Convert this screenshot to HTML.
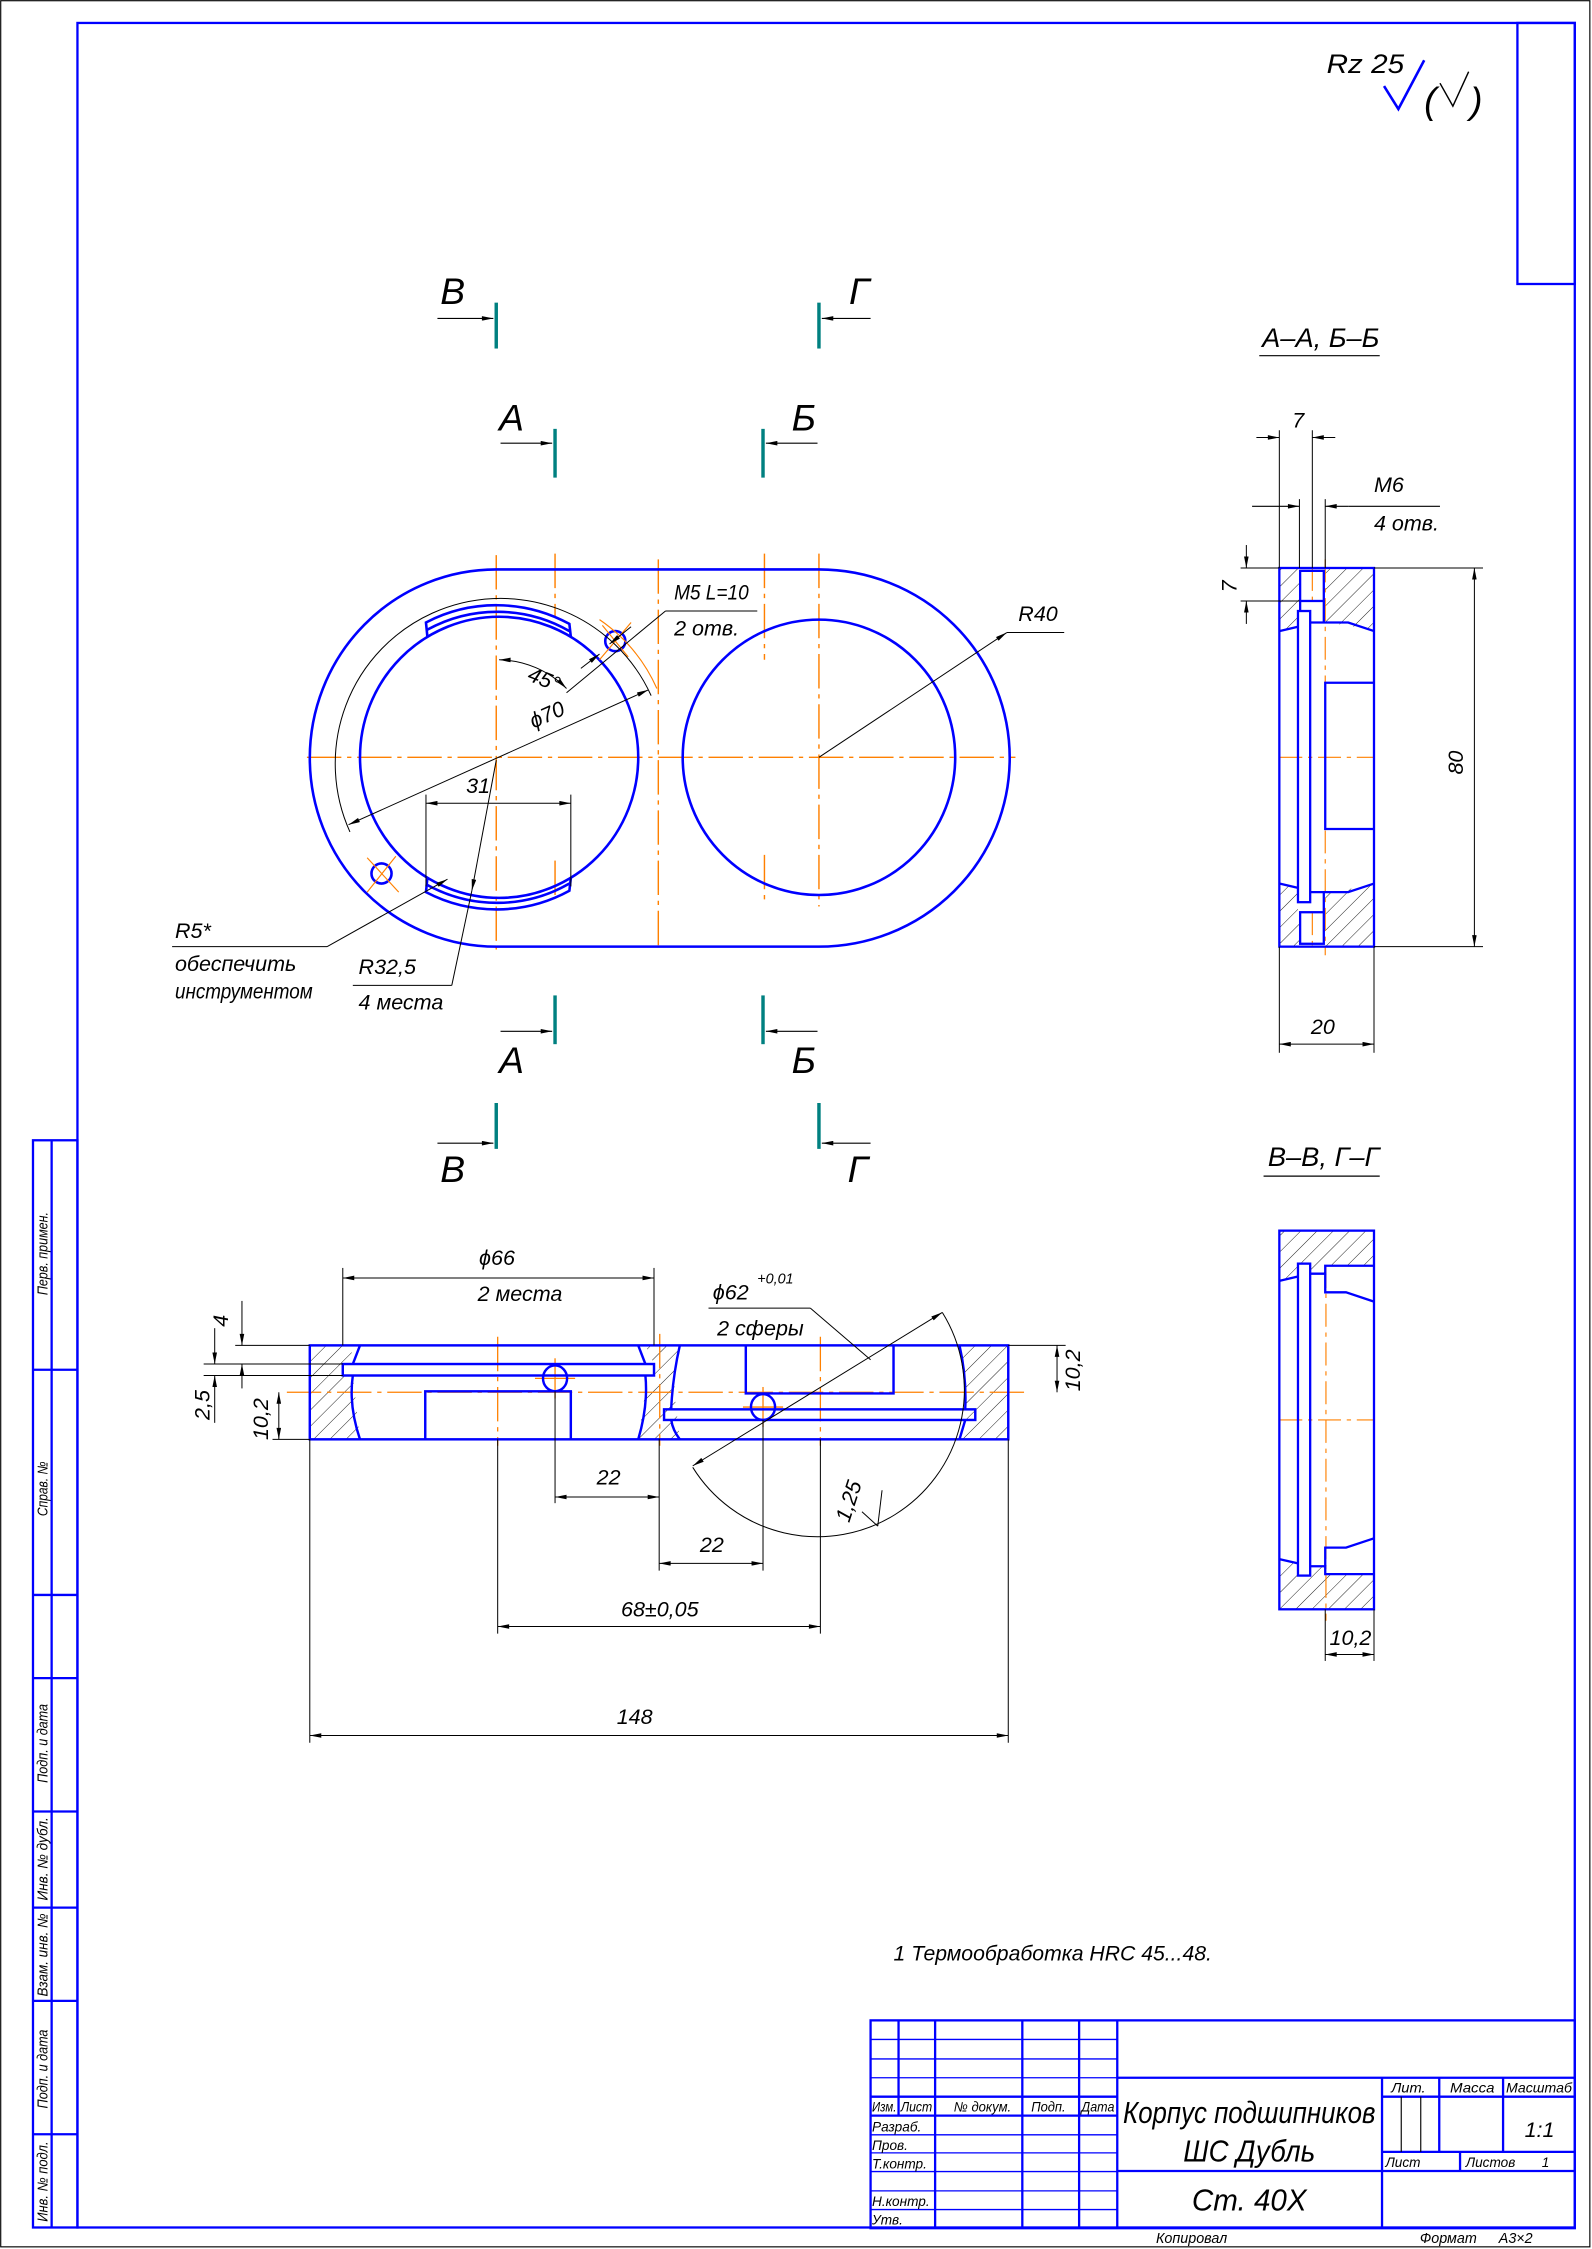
<!DOCTYPE html>
<html><head><meta charset="utf-8"><style>
html,body{margin:0;padding:0;background:#fff;}
svg{display:block;}
text{font-family:"Liberation Sans","DejaVu Sans",sans-serif;font-style:italic;fill:#000;}
</style></head><body>
<svg width="1592" height="2249" viewBox="0 0 1110 1568" preserveAspectRatio="none" xmlns="http://www.w3.org/2000/svg">
<defs>
<marker id="a" viewBox="0 0 10 4" refX="10" refY="2" markerWidth="9" markerHeight="3.2" markerUnits="userSpaceOnUse" orient="auto-start-reverse"><path d="M0,0 L10,2 L0,4z" fill="#000"/></marker>
<pattern id="h" patternUnits="userSpaceOnUse" width="8" height="8" patternTransform="rotate(45)"><line x1="0" y1="0" x2="0" y2="8" stroke="#000" stroke-width="0.6"/></pattern>
</defs>
<rect x="0" y="0" width="1110" height="1568" fill="#fff"/>
<rect x="0.5" y="0.5" width="1108" height="1566" fill="none" stroke="#000" stroke-width="0.8"/>
<!-- frame -->
<g stroke="#0000ff" stroke-width="1.6" fill="none">
<rect x="54" y="16" width="1044" height="1537"/>
<rect x="1058" y="16" width="40" height="182"/>
<rect x="23" y="795" width="31" height="758"/>
<line x1="36" y1="795" x2="36" y2="1553"/>
<line x1="23" y1="955" x2="54" y2="955"/><line x1="23" y1="1112" x2="54" y2="1112"/>
<line x1="23" y1="1170" x2="54" y2="1170"/><line x1="23" y1="1263" x2="54" y2="1263"/>
<line x1="23" y1="1330" x2="54" y2="1330"/><line x1="23" y1="1395" x2="54" y2="1395"/>
<line x1="23" y1="1488" x2="54" y2="1488"/>
</g>
<g font-size="10">
<text transform="translate(33,903) rotate(-90)" textLength="58" lengthAdjust="spacingAndGlyphs">Перв. примен.</text>
<text transform="translate(33,1057) rotate(-90)" textLength="38" lengthAdjust="spacingAndGlyphs">Справ. №</text>
<text transform="translate(33,1243) rotate(-90)" textLength="55" lengthAdjust="spacingAndGlyphs">Подп. и дата</text>
<text transform="translate(33,1325) rotate(-90)" textLength="58" lengthAdjust="spacingAndGlyphs">Инв. № дубл.</text>
<text transform="translate(33,1392) rotate(-90)" textLength="58" lengthAdjust="spacingAndGlyphs">Взам. инв. №</text>
<text transform="translate(33,1470) rotate(-90)" textLength="55" lengthAdjust="spacingAndGlyphs">Подп. и дата</text>
<text transform="translate(33,1549) rotate(-90)" textLength="56" lengthAdjust="spacingAndGlyphs">Инв. № подл.</text>
</g>
<!-- roughness -->
<text x="925" y="51" font-size="19" textLength="54" lengthAdjust="spacingAndGlyphs">Rz 25</text>
<polyline points="965,60 975,76 993,42" fill="none" stroke="#0000ff" stroke-width="1.8"/>
<text x="993" y="79" font-size="26" font-style="normal">(</text>
<polyline points="1004,58 1013,74 1024,50" fill="none" stroke="#000" stroke-width="1"/>
<text x="1025" y="79" font-size="26" font-style="normal">)</text>

<!-- ============ MAIN VIEW ============ -->
<g stroke="#ff8000" stroke-width="1" fill="none" stroke-dasharray="24,4,3,4">
<line x1="214" y1="528" x2="708" y2="528"/>
<line x1="346" y1="387" x2="346" y2="662"/>
<line x1="459" y1="390" x2="459" y2="662"/>
<line x1="571" y1="386" x2="571" y2="632"/>
<line x1="387" y1="386" x2="387" y2="430"/><line x1="387" y1="600" x2="387" y2="628"/>
<line x1="533" y1="386" x2="533" y2="460"/><line x1="533" y1="596" x2="533" y2="628"/>
</g>
<g stroke="#0000ff" stroke-width="1.8" fill="none">
<path d="M346,397 H571 A133,131.5 0 0 1 571,660 H346 A130,131.5 0 0 1 346,397Z"/>
<ellipse cx="348" cy="528" rx="97" ry="98"/>
<ellipse cx="571" cy="528" rx="95" ry="96"/>
<path d="M298,444 L297,434 A106,106 0 0 1 397,435 L398,444"/>
<path d="M298,439 A101,101 0 0 1 397,440"/>
<path d="M298,612 L297,622 A106,106 0 0 0 397,621 L398,612"/>
<path d="M298,617 A101,101 0 0 0 397,616"/>
<circle cx="429" cy="447" r="7"/>
<circle cx="266" cy="609" r="7"/>
</g>
<g stroke="#ff8000" stroke-width="0.8">
<line x1="418" y1="460" x2="440" y2="434"/><line x1="420" y1="436" x2="438" y2="458"/>
<line x1="256" y1="598" x2="278" y2="622"/><line x1="256" y1="622" x2="276" y2="597"/>
<path d="M418,432 A115,115 0 0 1 458,480" fill="none"/>
</g>
<g stroke="#000" stroke-width="0.7" fill="none">
<path d="M244,580 A115,115 0 1 1 454,485"/>
<line x1="243" y1="575" x2="452" y2="481" marker-start="url(#a)" marker-end="url(#a)"/>
<path d="M348,460 A68,68 0 0 1 395,480" marker-start="url(#a)" marker-end="url(#a)"/>
<line x1="395" y1="483" x2="464" y2="426"/><line x1="464" y1="426" x2="528" y2="426"/>
<line x1="440" y1="437" x2="425" y2="449" marker-end="url(#a)"/>
<line x1="405" y1="466" x2="418" y2="456" marker-end="url(#a)"/>
<line x1="571" y1="528" x2="702" y2="441" marker-end="url(#a)"/><line x1="702" y1="441" x2="742" y2="441"/>
<line x1="297" y1="554" x2="297" y2="618"/><line x1="398" y1="554" x2="398" y2="618"/>
<line x1="297" y1="560" x2="398" y2="560" marker-start="url(#a)" marker-end="url(#a)"/>
<line x1="346" y1="530" x2="329" y2="621" marker-end="url(#a)"/><line x1="329" y1="621" x2="315" y2="687"/><line x1="315" y1="687" x2="246" y2="687"/>
<line x1="228" y1="660" x2="312" y2="613" marker-end="url(#a)"/><line x1="228" y1="660" x2="120" y2="660"/>
</g>
<g font-size="15">
<text x="470" y="418" textLength="52" lengthAdjust="spacingAndGlyphs">M5 L=10</text>
<text x="470" y="443">2 отв.</text>
<text x="710" y="433">R40</text>
<text x="325" y="553">31</text>
<text transform="translate(367,474) rotate(22)">45°</text>
<text transform="translate(372,508) rotate(-24)">ϕ70</text>
<text x="250" y="679">R32,5</text>
<text x="250" y="704">4 места</text>
<text x="122" y="654">R5*</text>
<text x="122" y="677">обеспечить</text>
<text x="122" y="696" textLength="96" lengthAdjust="spacingAndGlyphs">инструментом</text>
</g>
<!-- section marks -->
<g stroke="#008080" stroke-width="2.4">
<line x1="346" y1="211" x2="346" y2="243"/><line x1="571" y1="211" x2="571" y2="243"/>
<line x1="387" y1="299" x2="387" y2="333"/><line x1="532" y1="299" x2="532" y2="333"/>
<line x1="387" y1="694" x2="387" y2="728"/><line x1="532" y1="694" x2="532" y2="728"/>
<line x1="346" y1="769" x2="346" y2="801"/><line x1="571" y1="769" x2="571" y2="801"/>
</g>
<g stroke="#000" stroke-width="0.8">
<line x1="305" y1="222" x2="344" y2="222" marker-end="url(#a)"/>
<line x1="607" y1="222" x2="573" y2="222" marker-end="url(#a)"/>
<line x1="349" y1="309" x2="385" y2="309" marker-end="url(#a)"/>
<line x1="570" y1="309" x2="534" y2="309" marker-end="url(#a)"/>
<line x1="349" y1="719" x2="385" y2="719" marker-end="url(#a)"/>
<line x1="570" y1="719" x2="534" y2="719" marker-end="url(#a)"/>
<line x1="305" y1="797" x2="344" y2="797" marker-end="url(#a)"/>
<line x1="607" y1="797" x2="573" y2="797" marker-end="url(#a)"/>
</g>
<g font-size="26" font-style="normal">
<text x="307" y="212">В</text><text x="592" y="212">Г</text>
<text x="348" y="300">А</text><text x="552" y="300">Б</text>
<text x="348" y="748">А</text><text x="552" y="748">Б</text>
<text x="307" y="824">В</text><text x="591" y="824">Г</text>
</g>

<!-- ============ SECTION A-A ============ -->
<text x="880" y="242" font-size="19">А–А, Б–Б</text>
<line x1="878" y1="248" x2="962" y2="248" stroke="#000" stroke-width="0.8"/>
<path d="M892,396 H906 V419 H905 V437 L892,440Z M923,396 H958 V440 L940,436 L924,434Z" fill="url(#h)"/>
<path d="M892,660 H906 V637 H905 V619 L892,616Z M923,660 H958 V616 L940,620 L924,622Z" fill="url(#h)"/>
<g stroke="#ff8000" stroke-width="0.8" stroke-dasharray="16,4,3,4">
<line x1="892" y1="528" x2="958" y2="528"/>
<line x1="924" y1="390" x2="924" y2="666"/>
<line x1="915" y1="396" x2="915" y2="420"/><line x1="915" y1="636" x2="915" y2="660"/>
</g>
<g stroke="#0000ff" stroke-width="1.6" fill="none">
<rect x="892" y="396" width="66" height="264"/>
<rect x="906.5" y="398" width="16.5" height="21"/><line x1="906.5" y1="419" x2="906.5" y2="426"/>
<rect x="906.5" y="636" width="16.5" height="22"/>
<rect x="905" y="426" width="8.5" height="203"/>
<path d="M892,440 L905,437"/><path d="M913.5,434 H924 L940,434 L958,440"/>
<path d="M892,616 L905,619"/><path d="M913.5,622 H924 L940,622 L958,616"/>
<line x1="923" y1="419" x2="923" y2="434"/><line x1="923" y1="622" x2="923" y2="636"/>
<path d="M958,476 H924 V578 H958"/>
</g>
<g stroke="#000" stroke-width="0.7" fill="none">
<line x1="892" y1="300" x2="892" y2="396"/><line x1="915" y1="300" x2="915" y2="396"/>
<line x1="876" y1="305" x2="892" y2="305" marker-end="url(#a)"/><line x1="931" y1="305" x2="915" y2="305" marker-end="url(#a)"/>
<line x1="906" y1="348" x2="906" y2="396"/><line x1="924" y1="348" x2="924" y2="396"/>
<line x1="873" y1="353" x2="906" y2="353" marker-end="url(#a)"/><line x1="940" y1="353" x2="924" y2="353" marker-end="url(#a)"/><line x1="940" y1="353" x2="1004" y2="353"/>
<line x1="865" y1="396" x2="892" y2="396"/><line x1="865" y1="419" x2="906" y2="419"/>
<line x1="869" y1="380" x2="869" y2="396" marker-end="url(#a)"/><line x1="869" y1="435" x2="869" y2="419" marker-end="url(#a)"/>
<line x1="958" y1="396" x2="1034" y2="396"/><line x1="958" y1="660" x2="1034" y2="660"/>
<line x1="1028" y1="396" x2="1028" y2="660" marker-start="url(#a)" marker-end="url(#a)"/>
<line x1="892" y1="660" x2="892" y2="734"/><line x1="958" y1="660" x2="958" y2="734"/>
<line x1="892" y1="728" x2="958" y2="728" marker-start="url(#a)" marker-end="url(#a)"/>
</g>
<g font-size="15">
<text x="901" y="298">7</text>
<text x="958" y="343">M6</text>
<text x="958" y="370">4 отв.</text>
<text transform="translate(862,413) rotate(-90)">7</text>
<text transform="translate(1020,540) rotate(-90)">80</text>
<text x="914" y="721">20</text>
</g>

<!-- ============ SECTION B-B ============ -->
<text x="884" y="813" font-size="19">В–В, Г–Г</text>
<line x1="881" y1="820" x2="962" y2="820" stroke="#000" stroke-width="0.8"/>
<path d="M892,858 H958 V882.5 H924 V888 H913.5 V881 H905 V890 L892,893Z" fill="url(#h)"/>
<path d="M892,1122 H958 V1097.5 H924 V1092 H913.5 V1099 H905 V1090 L892,1087Z" fill="url(#h)"/>
<g stroke="#ff8000" stroke-width="0.8" stroke-dasharray="16,4,3,4">
<line x1="892" y1="990" x2="958" y2="990"/>
<line x1="924.5" y1="882" x2="924.5" y2="1130"/>
</g>
<g stroke="#0000ff" stroke-width="1.6" fill="none">
<rect x="892" y="858" width="66" height="264"/>
<rect x="905" y="881" width="8.5" height="217.5"/>
<path d="M892,893 L905,890"/><path d="M913.5,888 H924 V882.5 H958"/><path d="M924,888 V901 H938.5 L958,907.5"/>
<path d="M892,1087 L905,1090"/><path d="M913.5,1092 H924 V1097.5 H958"/><path d="M924,1092 V1079 H938.5 L958,1072.5"/>
</g>
<g stroke="#000" stroke-width="0.7">
<line x1="924" y1="1122" x2="924" y2="1158"/><line x1="958" y1="1122" x2="958" y2="1158"/>
<line x1="924" y1="1153.5" x2="958" y2="1153.5" marker-start="url(#a)" marker-end="url(#a)"/>
</g>
<text x="927" y="1147" font-size="15">10,2</text>

<!-- ============ FRONT SECTION ============ -->
<path d="M216,938 H246 L244,951 H239 V959 H246 L251,1003 H216Z" fill="url(#h)"/>
<path d="M450,938 H474 L472,951 L470,970 L474,1003 H445 L450,970 L456,959 V951Z" fill="url(#h)"/>
<path d="M669,938 H703 V1003 H669 L673,990 V982 L673,970Z" fill="url(#h)"/>
<g stroke="#ff8000" stroke-width="0.9" stroke-dasharray="24,4,3,4">
<line x1="200" y1="970.7" x2="716" y2="970.7"/>
<line x1="347" y1="932" x2="347" y2="1008"/>
<line x1="572" y1="932" x2="572" y2="1008"/>
<line x1="460" y1="930" x2="460" y2="1008"/>
</g>
<g stroke="#ff8000" stroke-width="0.9">
<line x1="373" y1="961" x2="401" y2="961"/><line x1="387" y1="947" x2="387" y2="975"/>
<line x1="518" y1="981" x2="546" y2="981"/><line x1="532" y1="967" x2="532" y2="995"/>
</g>
<g stroke="#0000ff" stroke-width="1.7" fill="none">
<rect x="216" y="938" width="487" height="65.5"/>
<rect x="239" y="951" width="217" height="8"/>
<rect x="463" y="982.6" width="217" height="7.4"/>
<path d="M296.5,1003.5 V970 H398 V1003.5"/>
<path d="M520,938 V971.5 H623 V938"/>
<path d="M251,938 L246,951"/><path d="M246,959 Q243,980 251,1003.5"/>
<path d="M445,938 L450,951"/><path d="M450,959 Q452,980 445,1003.5"/>
<path d="M474,938 Q469,960 468,982"/><path d="M468,990 Q469,997 474,1003.5"/>
<path d="M669,938 Q674,960 673,982"/><path d="M673,990 L669,1003.5"/>
<ellipse cx="387" cy="961" rx="8.4" ry="9"/>
<ellipse cx="532" cy="981" rx="8.4" ry="9"/>
</g>
<g stroke="#000" stroke-width="0.7" fill="none">
<line x1="239" y1="884" x2="239" y2="938"/><line x1="456" y1="884" x2="456" y2="938"/>
<line x1="239" y1="891" x2="456" y2="891" marker-start="url(#a)" marker-end="url(#a)"/>
<path d="M657,915 A101,101 0 1 1 483,1023"/>
<line x1="483" y1="1022" x2="657" y2="915" marker-start="url(#a)" marker-end="url(#a)"/>
<line x1="607" y1="948" x2="565" y2="912"/><line x1="565" y1="912" x2="494" y2="912"/>
<line x1="615" y1="1039" x2="612" y2="1064"/><line x1="612" y1="1064" x2="601" y2="1054"/>
<line x1="164" y1="938" x2="216" y2="938"/><line x1="142" y1="951" x2="239" y2="951"/><line x1="142" y1="959" x2="239" y2="959"/>
<line x1="168.7" y1="907" x2="168.7" y2="938" marker-end="url(#a)"/><line x1="168.7" y1="968" x2="168.7" y2="951" marker-end="url(#a)"/>
<line x1="149.7" y1="926" x2="149.7" y2="951" marker-end="url(#a)"/><line x1="149.7" y1="992" x2="149.7" y2="959" marker-end="url(#a)"/>
<line x1="190" y1="1003.5" x2="216" y2="1003.5"/>
<line x1="194.4" y1="970.7" x2="194.4" y2="1003.5" marker-start="url(#a)" marker-end="url(#a)"/>
<line x1="703" y1="938" x2="743" y2="938"/>
<line x1="737" y1="938" x2="737" y2="970.7" marker-start="url(#a)" marker-end="url(#a)"/>
<line x1="387" y1="970" x2="387" y2="1048"/><line x1="459.6" y1="1003" x2="459.6" y2="1095"/>
<line x1="387" y1="1043.7" x2="459.6" y2="1043.7" marker-start="url(#a)" marker-end="url(#a)"/>
<line x1="532" y1="990" x2="532" y2="1095"/>
<line x1="459.6" y1="1090" x2="532" y2="1090" marker-start="url(#a)" marker-end="url(#a)"/>
<line x1="347" y1="1003.5" x2="347" y2="1139"/><line x1="572" y1="1003.5" x2="572" y2="1139"/>
<line x1="347" y1="1134" x2="572" y2="1134" marker-start="url(#a)" marker-end="url(#a)"/>
<line x1="216" y1="1003.5" x2="216" y2="1215"/><line x1="703" y1="1003.5" x2="703" y2="1215"/>
<line x1="216" y1="1210" x2="703" y2="1210" marker-start="url(#a)" marker-end="url(#a)"/>
</g>
<g font-size="15">
<text x="334" y="882">ϕ66</text>
<text x="333" y="907">2 места</text>
<text x="497" y="906">ϕ62</text><text x="528" y="895" font-size="10">+0,01</text>
<text x="500" y="931">2 сферы</text>
<text transform="translate(592,1062) rotate(-72)">1,25</text>
<text transform="translate(159,925) rotate(-90)">4</text>
<text transform="translate(146,990) rotate(-90)">2,5</text>
<text transform="translate(187,1004) rotate(-90)">10,2</text>
<text transform="translate(753,970) rotate(-90)">10,2</text>
<text x="416" y="1035">22</text>
<text x="488" y="1082">22</text>
<text x="433" y="1127">68±0,05</text>
<text x="430" y="1202">148</text>
</g>
<text x="623" y="1367" font-size="15" textLength="222" lengthAdjust="spacingAndGlyphs">1 Термообработка HRC 45...48.</text>

<!-- ============ TITLE BLOCK ============ -->
<g stroke="#0000ff" fill="none">
<g stroke-width="1.6">
<rect x="607" y="1408.6" width="491" height="144.9"/>
<line x1="626.5" y1="1408.6" x2="626.5" y2="1475"/>
<line x1="652" y1="1408.6" x2="652" y2="1553.5"/>
<line x1="712.8" y1="1408.6" x2="712.8" y2="1553.5"/>
<line x1="752.4" y1="1408.6" x2="752.4" y2="1553.5"/>
<line x1="779" y1="1408.6" x2="779" y2="1553.5"/>
<line x1="607" y1="1461.8" x2="779" y2="1461.8"/>
<line x1="607" y1="1475" x2="779" y2="1475"/>
<line x1="779" y1="1448.6" x2="1098" y2="1448.6"/>
<line x1="779" y1="1513.6" x2="1098" y2="1513.6"/>
<line x1="963.6" y1="1448.6" x2="963.6" y2="1553.5"/>
<line x1="963.6" y1="1461.8" x2="1098" y2="1461.8"/>
<line x1="963.6" y1="1500.3" x2="1098" y2="1500.3"/>
<line x1="1003.5" y1="1448.6" x2="1003.5" y2="1500.3"/>
<line x1="1048" y1="1448.6" x2="1048" y2="1500.3"/>
<line x1="1018" y1="1500.3" x2="1018" y2="1513.6"/>
</g>
<g stroke-width="0.9">
<line x1="607" y1="1421.9" x2="779" y2="1421.9"/>
<line x1="607" y1="1435.5" x2="779" y2="1435.5"/>
<line x1="607" y1="1448.6" x2="779" y2="1448.6"/>
<line x1="607" y1="1488.4" x2="779" y2="1488.4"/>
<line x1="607" y1="1501" x2="779" y2="1501"/>
<line x1="607" y1="1514" x2="779" y2="1514"/>
<line x1="607" y1="1527.5" x2="779" y2="1527.5"/>
<line x1="607" y1="1540.5" x2="779" y2="1540.5"/>
</g>
</g>
<g stroke="#000" stroke-width="0.8">
<line x1="977" y1="1461.8" x2="977" y2="1500.3"/><line x1="990.6" y1="1461.8" x2="990.6" y2="1500.3"/>
</g>
<g font-size="9.5">
<text x="608" y="1472" textLength="17" lengthAdjust="spacingAndGlyphs">Изм.</text><text x="628" y="1472" textLength="22" lengthAdjust="spacingAndGlyphs">Лист</text><text x="665" y="1472" textLength="40" lengthAdjust="spacingAndGlyphs">№ докум.</text><text x="719" y="1472" textLength="24" lengthAdjust="spacingAndGlyphs">Подп.</text><text x="754" y="1472" textLength="23" lengthAdjust="spacingAndGlyphs">Дата</text>
<text x="608" y="1486">Разраб.</text>
<text x="608" y="1499">Пров.</text>
<text x="608" y="1512">Т.контр.</text>
<text x="608" y="1538">Н.контр.</text>
<text x="608" y="1551">Утв.</text>
<text x="970" y="1459" textLength="24" lengthAdjust="spacingAndGlyphs">Лит.</text><text x="1011" y="1459" textLength="31" lengthAdjust="spacingAndGlyphs">Масса</text><text x="1050" y="1459" textLength="46" lengthAdjust="spacingAndGlyphs">Масштаб</text>
<text x="966" y="1511">Лист</text><text x="1022" y="1511">Листов</text><text x="1075" y="1511">1</text>
</g>
<text x="1063" y="1490" font-size="15">1:1</text>
<text x="871" y="1480" font-size="21" text-anchor="middle" textLength="176" lengthAdjust="spacingAndGlyphs">Корпус подшипников</text>
<text x="871" y="1507" font-size="21" text-anchor="middle" textLength="92" lengthAdjust="spacingAndGlyphs">ШС Дубль</text>
<text x="871" y="1541" font-size="21" text-anchor="middle" textLength="80" lengthAdjust="spacingAndGlyphs">Ст. 40Х</text>
<text x="806" y="1564" font-size="10">Копировал</text>
<text x="990" y="1564" font-size="10">Формат</text>
<text x="1045" y="1564" font-size="10">А3×2</text>
</svg>
</body></html>
